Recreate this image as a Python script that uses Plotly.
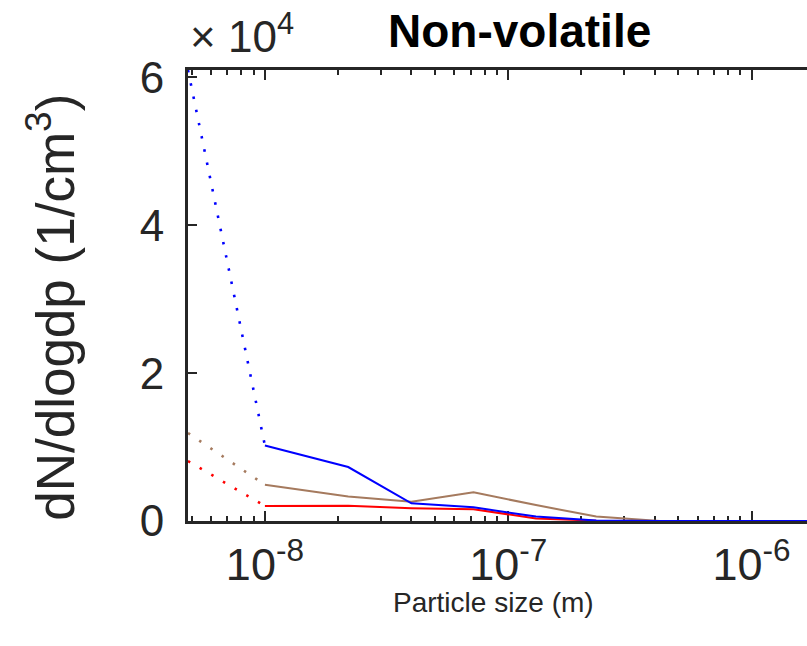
import math
import plotly.graph_objects as go

# Particle size bins (m) and non-volatile number size distributions (1/cm^3)
dp = [1.0e-8, 2.2e-8, 4.0e-8, 7.2e-8, 1.3e-7, 2.3e-7, 4.2e-7, 7.5e-7, 1.35e-6, 2.4e-6]
blue_vals = [10200, 7300, 2400, 1850, 600, 60, 0, 0, 0, 0]
brown_vals = [4900, 3300, 2600, 3880, 2150, 600, 0, 0, 0, 0]
red_vals = [2030, 2050, 1720, 1580, 350, 40, 0, 0, 0, 0]

# Extrapolated values below the smallest measured bin (dotted)
dp_extrap = [4.83e-9, 1.0e-8]
blue_extrap = [61000, 10200]
brown_extrap = [11900, 4900]
red_extrap = [8100, 2030]

x_range = [4.83e-9, 1.69e-6]
y_range = [0, 61000]
y_ticks = [0, 20000, 40000, 60000]
y_ticktext = ["0", "2", "4", "6"]
x_ticks = [1e-8, 1e-7, 1e-6]
x_ticktext = ["10<sup>-8</sup>", "10<sup>-7</sup>", "10<sup>-6</sup>"]

BLUE = "#0000FF"
RED = "#FF0000"
BROWN = "#A57A5E"
AXIS = "#262626"
FONT = "Liberation Sans, Arial, Helvetica, sans-serif"

fig = go.Figure()

for vals, ext, color in [(brown_vals, brown_extrap, BROWN),
                         (red_vals, red_extrap, RED),
                         (blue_vals, blue_extrap, BLUE)]:
    fig.add_trace(go.Scatter(x=dp_extrap, y=ext, mode="lines",
                             line=dict(color=color, width=2.6, dash="2.5px,11px"),
                             showlegend=False, hoverinfo="skip"))
    fig.add_trace(go.Scatter(x=dp, y=vals, mode="lines",
                             line=dict(color=color, width=2),
                             showlegend=False))

minor_vals = [k * 10.0 ** e for e in range(-9, -4) for k in range(2, 10)]

fig.update_xaxes(
    type="log",
    range=[math.log10(x_range[0]), math.log10(x_range[1])],
    tickmode="array", tickvals=x_ticks, ticktext=x_ticktext,
    ticks="inside", ticklen=10, tickwidth=2, tickcolor=AXIS,
    minor=dict(ticks="inside", ticklen=5, tickwidth=2, tickcolor=AXIS,
               tickmode="array", tickvals=minor_vals, showgrid=False),
    showline=True, linewidth=3, linecolor=AXIS, mirror="ticks",
    showgrid=False, zeroline=False, layer="below traces",
    tickfont=dict(family=FONT, size=45, color=AXIS),
    ticklabelstandoff=2,
)
fig.update_yaxes(
    range=y_range,
    tickmode="array", tickvals=y_ticks, ticktext=y_ticktext,
    ticks="inside", ticklen=9, tickwidth=2, tickcolor=AXIS,
    showline=True, linewidth=3, linecolor=AXIS, mirror=False,
    showgrid=False, zeroline=False, layer="below traces",
    tickfont=dict(family=FONT, size=44, color=AXIS),
    ticklabelstandoff=12,
)

fig.update_layout(
    width=807, height=646,
    margin=dict(l=188, r=0, t=70, b=125),
    plot_bgcolor="white", paper_bgcolor="white",
    annotations=[
        dict(text="<b>Non-volatile</b>", xref="paper", yref="paper",
             x=0.536, y=1.087, xanchor="center", yanchor="middle",
             showarrow=False, font=dict(family=FONT, size=46, color="black")),
        dict(text="\u00d7 10<sup>4</sup>", xref="paper", yref="paper",
             x=0.0, y=1.015, xanchor="left", yanchor="bottom",
             showarrow=False, font=dict(family=FONT, size=44, color=AXIS)),
        dict(text="dN/dlogdp (1/cm<sup>3</sup>)", xref="paper", yref="paper",
             x=-0.222, y=0.474, xanchor="center", yanchor="middle",
             textangle=-90, showarrow=False,
             font=dict(family=FONT, size=53, color=AXIS)),
        dict(text="Particle size (m)", xref="paper", yref="paper",
             x=0.494, y=-0.18, xanchor="center", yanchor="middle",
             showarrow=False, font=dict(family=FONT, size=28, color=AXIS)),
    ],
)

fig.write_html("out.html")
